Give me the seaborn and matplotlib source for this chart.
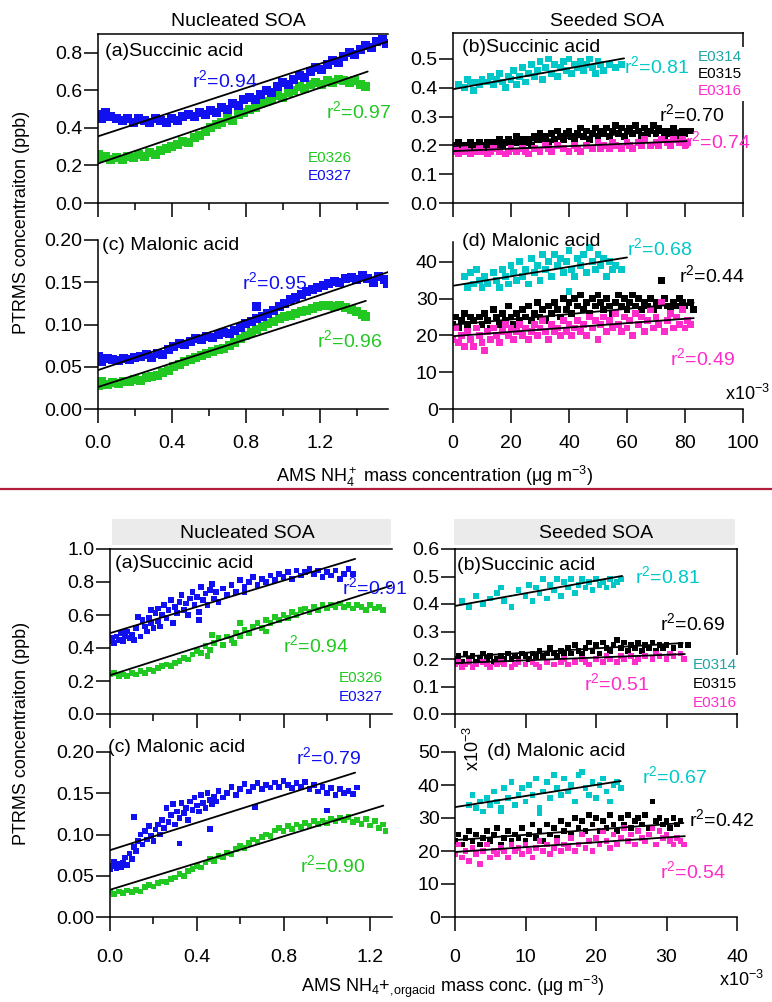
import matplotlib
matplotlib.use("Agg")
import matplotlib.pyplot as plt
import numpy as np
import pandas as pd
import seaborn as sns
from matplotlib.ticker import MultipleLocator, FormatStrFormatter
from matplotlib.patches import Rectangle
from matplotlib.lines import Line2D

sns.set_theme(style="white")
plt.rcParams["font.family"] = ["Liberation Sans", "DejaVu Sans"]
plt.rcParams["mathtext.fontset"] = "custom"
plt.rcParams["mathtext.rm"] = "Liberation Sans"
plt.rcParams["mathtext.default"] = "regular"

# ---------------- colours ----------------
GREEN = "#22C822"
BLUE = "#1010F0"
CYAN = "#00C8C8"
TEAL = "#1FA5A5"
MAGENTA = "#FF2BCB"
BLACK = "#000000"

# ================= TOP BLOCK (AMS NH4+) =================
# (a) Succinic acid, nucleated  (x: ug m-3, y: ppb)
top_a_E0327 = [(0.00,0.47),(0.02,0.45),(0.04,0.48),(0.07,0.46),(0.10,0.45),(0.13,0.44),(0.16,0.45),(0.19,0.43),
               (0.22,0.45),(0.25,0.44),(0.28,0.43),(0.31,0.45),(0.34,0.44),(0.37,0.43),(0.40,0.45),(0.43,0.44),
               (0.46,0.46),(0.49,0.47),(0.52,0.46),(0.55,0.48),(0.58,0.47),(0.61,0.49),(0.64,0.48),(0.67,0.51),
               (0.70,0.50),(0.73,0.53),(0.76,0.52),(0.79,0.55),(0.82,0.56),(0.85,0.55),(0.88,0.58),(0.91,0.60),
               (0.94,0.59),(0.97,0.62),(1.00,0.64),(1.03,0.63),(1.06,0.66),(1.09,0.68),(1.12,0.67),(1.15,0.70),
               (1.18,0.72),(1.21,0.71),(1.24,0.74),(1.27,0.76),(1.30,0.75),(1.33,0.78),(1.36,0.80),(1.39,0.79),
               (1.42,0.82),(1.45,0.84),(1.48,0.83),(1.51,0.86),(1.54,0.87),(1.56,0.85)]
top_a_E0326 = [(0.00,0.26),(0.02,0.24),(0.04,0.25),(0.07,0.23),(0.10,0.24),(0.13,0.23),(0.16,0.25),(0.19,0.24),
               (0.22,0.26),(0.25,0.25),(0.28,0.27),(0.31,0.26),(0.34,0.28),(0.37,0.29),(0.40,0.30),(0.43,0.31),
               (0.46,0.33),(0.49,0.32),(0.52,0.35),(0.55,0.36),(0.58,0.38),(0.61,0.40),(0.64,0.42),(0.67,0.43),
               (0.70,0.45),(0.73,0.44),(0.76,0.47),(0.79,0.48),(0.82,0.50),(0.85,0.51),(0.88,0.53),(0.91,0.54),
               (0.94,0.55),(0.97,0.57),(1.00,0.56),(1.03,0.59),(1.06,0.60),(1.09,0.62),(1.12,0.61),(1.15,0.63),
               (1.18,0.64),(1.21,0.63),(1.24,0.65),(1.27,0.64),(1.30,0.66),(1.33,0.65),(1.36,0.64),(1.39,0.65),
               (1.42,0.63),(1.45,0.62)]
top_a_fits = [(1.57, 0.355, 0.86), (1.46, 0.21, 0.70)]          # (x end, y at 0, y at end)
top_a_r2 = ["0.94", "0.97"]

# (b) Succinic acid, seeded (x: 1e-3 ug m-3, y: ppb)
top_b_E0314 = [(2,0.41),(4,0.40),(5,0.43),(6,0.42),(7,0.39),(8,0.42),(9,0.41),(10,0.43),(12,0.42),(13,0.44),
               (14,0.41),(15,0.43),(16,0.45),(17,0.42),(18,0.40),(19,0.44),(20,0.43),(21,0.46),(22,0.41),(23,0.44),
               (24,0.47),(25,0.42),(26,0.45),(27,0.48),(28,0.44),(29,0.46),(30,0.49),(31,0.43),(32,0.47),(33,0.50),
               (34,0.45),(35,0.48),(36,0.44),(37,0.47),(38,0.49),(39,0.46),(40,0.50),(41,0.45),(42,0.48),(43,0.47),
               (44,0.49),(45,0.46),(46,0.48),(47,0.50),(48,0.47),(49,0.45),(50,0.49),(51,0.48),(52,0.46),(54,0.48),
               (56,0.47),(58,0.48)]
top_b_E0315 = [(0,0.20),(1,0.19),(2,0.21),(3,0.20),(4,0.19),(5,0.20),(6,0.21),(7,0.19),(8,0.20),(9,0.21),(10,0.20),
               (11,0.19),(12,0.21),(13,0.20),(14,0.21),(15,0.20),(16,0.22),(17,0.20),(18,0.21),(19,0.22),(20,0.20),
               (21,0.21),(22,0.23),(23,0.21),(24,0.22),(25,0.21),(26,0.22),(27,0.20),(28,0.23),(29,0.22),(30,0.24),
               (31,0.22),(32,0.23),(33,0.21),(34,0.24),(35,0.22),(36,0.25),(37,0.23),(38,0.22),(39,0.24),(40,0.25),
               (41,0.23),(42,0.22),(43,0.24),(44,0.26),(45,0.23),(46,0.25),(47,0.22),(48,0.24),(49,0.26),(50,0.23),
               (51,0.25),(52,0.24),(53,0.26),(54,0.23),(55,0.25),(56,0.27),(57,0.24),(58,0.26),(59,0.23),(60,0.25),
               (61,0.26),(62,0.24),(63,0.27),(64,0.25),(65,0.23),(66,0.26),(67,0.24),(68,0.25),(69,0.27),(70,0.24),
               (71,0.26),(72,0.25),(73,0.23),(74,0.25),(75,0.24),(76,0.26),(77,0.24),(78,0.23),(79,0.25),(80,0.24),
               (81,0.25),(82,0.25)]
top_b_E0316 = [(0,0.18),(1,0.19),(2,0.17),(3,0.18),(4,0.19),(5,0.18),(6,0.17),(8,0.18),(9,0.19),(10,0.18),(12,0.17),
               (13,0.18),(14,0.19),(16,0.18),(18,0.17),(19,0.18),(20,0.19),(22,0.18),(24,0.19),(25,0.18),(26,0.17),
               (28,0.19),(30,0.18),(32,0.20),(33,0.19),(34,0.18),(36,0.20),(38,0.19),(40,0.18),(42,0.20),(43,0.19),
               (44,0.18),(46,0.20),(48,0.19),(50,0.21),(51,0.19),(52,0.20),(54,0.19),(55,0.21),(56,0.20),(58,0.19),
               (60,0.21),(61,0.20),(62,0.19),(64,0.21),(65,0.20),(66,0.22),(68,0.20),(70,0.21),(71,0.20),(72,0.22),
               (74,0.21),(75,0.20),(76,0.22),(78,0.21),(79,0.22),(80,0.20),(81,0.21)]
top_b_fits = [(59, 0.395, 0.502), (81, 0.197, 0.255), (81, 0.180, 0.215)]
top_b_r2 = ["0.81", "0.70", "0.74"]

# (c) Malonic acid, nucleated
top_c_E0327 = [(0.00,0.062),(0.02,0.056),(0.05,0.060),(0.08,0.058),(0.11,0.057),(0.14,0.060),(0.17,0.058),(0.20,0.061),
               (0.23,0.062),(0.26,0.064),(0.29,0.061),(0.32,0.066),(0.35,0.064),(0.38,0.070),(0.41,0.074),(0.44,0.078),
               (0.47,0.076),(0.50,0.080),(0.53,0.083),(0.56,0.082),(0.59,0.086),(0.62,0.085),(0.65,0.088),(0.68,0.090),
               (0.71,0.089),(0.74,0.093),(0.77,0.097),(0.80,0.101),(0.83,0.104),(0.86,0.107),(0.86,0.121),(0.89,0.110),
               (0.92,0.113),(0.95,0.117),(0.98,0.121),(1.01,0.125),(1.04,0.129),(1.07,0.132),(1.10,0.135),(1.13,0.139),
               (1.16,0.141),(1.19,0.144),(1.22,0.146),(1.25,0.148),(1.28,0.151),(1.31,0.150),(1.34,0.154),(1.37,0.156),
               (1.40,0.153),(1.43,0.158),(1.46,0.155),(1.49,0.150),(1.52,0.157),(1.55,0.153),(1.57,0.148)]
top_c_E0326 = [(0.00,0.028),(0.02,0.032),(0.05,0.029),(0.08,0.031),(0.11,0.030),(0.14,0.033),(0.17,0.032),(0.20,0.035),
               (0.23,0.034),(0.26,0.037),(0.29,0.039),(0.32,0.040),(0.35,0.043),(0.38,0.045),(0.41,0.050),(0.44,0.053),
               (0.47,0.056),(0.50,0.058),(0.53,0.061),(0.56,0.063),(0.59,0.066),(0.62,0.068),(0.65,0.070),(0.68,0.072),
               (0.71,0.075),(0.74,0.079),(0.77,0.083),(0.80,0.087),(0.83,0.091),(0.86,0.094),(0.89,0.098),(0.92,0.101),
               (0.95,0.104),(0.98,0.107),(1.01,0.109),(1.04,0.111),(1.07,0.113),(1.10,0.115),(1.13,0.117),(1.16,0.119),
               (1.19,0.121),(1.22,0.122),(1.25,0.123),(1.28,0.121),(1.31,0.122),(1.34,0.120),(1.37,0.118),(1.40,0.115),
               (1.43,0.112),(1.45,0.109)]
top_c_fits = [(1.57, 0.046, 0.162), (1.45, 0.026, 0.128)]
top_c_r2 = ["0.95", "0.96"]

# (d) Malonic acid, seeded (x: 1e-3 ug m-3, y: 1e-3 ppb)
top_d_E0314 = [(4,36),(5,33),(6,37),(7,34),(8,38),(9,35),(10,33),(11,36),(12,34),(14,37),(15,35),(16,33),(17,38),
               (18,36),(19,34),(20,39),(21,37),(22,35),(23,40),(24,36),(25,38),(26,34),(27,41),(28,37),(29,39),(30,35),
               (31,42),(32,38),(33,40),(34,36),(35,42),(36,39),(37,41),(38,37),(39,40),(40,43),(40,32),(41,38),(42,36),
               (43,41),(44,39),(45,42),(46,37),(47,44),(48,40),(49,38),(50,42),(51,39),(52,41),(53,36),(54,40),(55,38),
               (56,39),(58,38)]
top_d_E0315 = [(0,23),(1,25),(2,22),(3,24),(4,26),(5,23),(6,25),(7,24),(8,22),(9,25),(10,23),(11,26),(12,24),(13,22),
               (14,27),(15,25),(16,23),(17,26),(18,24),(19,28),(20,25),(21,23),(22,26),(23,24),(24,27),(25,25),(26,28),
               (27,24),(28,26),(29,29),(30,25),(31,27),(32,24),(33,28),(34,26),(35,29),(36,27),(37,25),(38,30),(39,27),
               (40,29),(41,26),(42,30),(43,28),(44,31),(45,27),(46,29),(47,26),(48,30),(49,28),(50,31),(51,29),(52,27),
               (53,30),(54,28),(55,26),(56,29),(57,31),(58,28),(59,30),(60,27),(61,29),(62,31),(63,28),(64,30),(65,27),
               (66,29),(67,28),(68,30),(69,27),(70,29),(71,28),(72,35),(73,30),(74,28),(75,27),(76,29),(77,28),(78,30),
               (79,29),(80,28),(82,29),(83,27)]
top_d_E0316 = [(0,19),(1,22),(2,18),(3,20),(4,17),(5,21),(6,19),(7,17),(8,22),(9,20),(10,18),(11,16),(12,21),(13,19),
               (14,22),(15,20),(16,18),(17,21),(18,23),(19,20),(20,22),(21,19),(22,21),(23,23),(24,20),(25,22),(26,19),
               (27,21),(28,23),(29,20),(30,22),(31,24),(32,21),(33,19),(34,23),(35,21),(36,22),(37,20),(38,24),(39,21),
               (40,23),(41,20),(42,22),(43,24),(44,21),(45,23),(46,20),(47,25),(48,22),(49,24),(50,19),(51,23),(52,25),
               (53,21),(54,24),(55,22),(56,26),(57,23),(58,21),(59,25),(60,22),(61,24),(62,20),(63,26),(64,23),(65,25),
               (66,21),(67,24),(68,27),(69,22),(70,25),(71,23),(72,29),(73,21),(74,24),(75,26),(76,22),(77,25),(78,23),
               (79,27),(80,22),(81,24),(82,23)]
top_d_fits = [(60, 33.5, 41.2), (83, 22.9, 28.9), (83, 19.8, 24.7)]
top_d_r2 = ["0.68", "0.44", "0.49"]

# ================= BOTTOM BLOCK (AMS NH4+,orgacid) =================
bot_a_E0327 = [(0.00,0.44),(0.01,0.46),(0.02,0.43),(0.03,0.47),(0.04,0.45),(0.05,0.49),(0.06,0.44),(0.07,0.47),
               (0.08,0.50),(0.09,0.46),(0.10,0.48),(0.11,0.45),(0.12,0.52),(0.13,0.59),(0.14,0.47),(0.15,0.57),
               (0.16,0.53),(0.17,0.50),(0.18,0.58),(0.19,0.55),(0.19,0.63),(0.20,0.52),(0.21,0.61),(0.22,0.56),
               (0.22,0.64),(0.23,0.53),(0.24,0.60),(0.25,0.66),(0.26,0.58),(0.27,0.63),(0.28,0.69),(0.29,0.55),
               (0.30,0.65),(0.31,0.61),(0.32,0.68),(0.33,0.72),(0.34,0.63),(0.35,0.67),(0.36,0.60),(0.37,0.70),
               (0.38,0.74),(0.39,0.66),(0.40,0.71),(0.41,0.62),(0.41,0.57),(0.42,0.77),(0.43,0.69),(0.44,0.73),
               (0.45,0.66),(0.46,0.75),(0.47,0.79),(0.48,0.70),(0.49,0.74),(0.50,0.68),(0.52,0.76),(0.54,0.72),
               (0.56,0.78),(0.58,0.74),(0.60,0.81),(0.62,0.77),(0.62,0.74),(0.64,0.80),(0.66,0.83),(0.68,0.78),
               (0.70,0.82),(0.72,0.80),(0.74,0.84),(0.76,0.81),(0.78,0.85),(0.80,0.83),(0.82,0.86),(0.84,0.82),
               (0.86,0.87),(0.88,0.84),(0.90,0.86),(0.92,0.88),(0.94,0.85),(0.96,0.87),(0.98,0.83),(1.00,0.86),
               (1.02,0.84),(1.04,0.87),(1.06,0.82),(1.08,0.85),(1.10,0.88),(1.12,0.85)]
bot_a_E0326 = [(0.00,0.24),(0.02,0.25),(0.04,0.23),(0.06,0.24),(0.08,0.23),(0.10,0.25),(0.12,0.24),(0.14,0.26),
               (0.16,0.25),(0.18,0.27),(0.20,0.26),(0.22,0.28),(0.24,0.29),(0.26,0.30),(0.28,0.29),(0.30,0.31),
               (0.32,0.32),(0.34,0.34),(0.36,0.33),(0.38,0.36),(0.40,0.38),(0.42,0.37),(0.44,0.41),(0.45,0.35),
               (0.46,0.39),(0.47,0.48),(0.48,0.43),(0.50,0.46),(0.52,0.42),(0.54,0.47),(0.56,0.45),(0.57,0.43),
               (0.58,0.49),(0.60,0.47),(0.60,0.55),(0.62,0.51),(0.64,0.49),(0.66,0.53),(0.68,0.55),(0.70,0.52),
               (0.72,0.57),(0.72,0.50),(0.74,0.55),(0.76,0.59),(0.78,0.57),(0.80,0.60),(0.82,0.58),(0.84,0.62),
               (0.86,0.60),(0.88,0.63),(0.90,0.64),(0.92,0.62),(0.94,0.65),(0.96,0.63),(0.98,0.66),(1.00,0.64),
               (1.02,0.66),(1.04,0.65),(1.06,0.67),(1.08,0.65),(1.10,0.66),(1.12,0.64),(1.14,0.66),(1.16,0.65),
               (1.18,0.63),(1.20,0.66),(1.22,0.64),(1.24,0.65),(1.26,0.63)]
bot_a_fits = [(1.13, 0.49, 0.94), (1.30, 0.235, 0.78)]
bot_a_r2 = ["0.91", "0.94"]

bot_b_E0314 = [(1,0.41),(2,0.39),(3,0.43),(4,0.40),(5,0.42),(6,0.44),(6.5,0.46),(7,0.41),(8,0.39),(9,0.45),(10,0.43),
               (10.5,0.47),(11,0.41),(11.5,0.46),(12,0.44),(12.5,0.49),(13,0.42),(13.5,0.47),(14,0.45),(14.5,0.49),
               (15,0.43),(15.5,0.48),(16,0.46),(16.5,0.49),(17,0.44),(17.5,0.47),(18,0.49),(18.5,0.46),(19,0.48),
               (19.5,0.45),(20,0.49),(20.5,0.47),(21,0.48),(21.5,0.46),(22,0.49),(22.5,0.47),(23,0.48),(23.5,0.49)]
bot_b_E0315 = [(0,0.20),(0.5,0.21),(1,0.19),(1.5,0.22),(2,0.20),(2.5,0.21),(3,0.19),(3.5,0.20),(4,0.22),(4.5,0.20),
               (5,0.21),(5.5,0.19),(6,0.20),(6.5,0.21),(7,0.20),(7.5,0.22),(8,0.20),(8.5,0.21),(9,0.20),(9.5,0.22),
               (10,0.21),(10.5,0.20),(11,0.22),(11.5,0.21),(12,0.23),(12.5,0.21),(13,0.22),(13.5,0.24),(14,0.22),
               (14.5,0.21),(15,0.23),(15.5,0.22),(16,0.24),(16.5,0.22),(17,0.25),(17.5,0.23),(18,0.22),(18.5,0.24),
               (19,0.26),(19.5,0.23),(20,0.25),(20.5,0.22),(21,0.26),(21.5,0.24),(22,0.23),(22.5,0.25),(23,0.27),
               (23.5,0.24),(24,0.26),(24.5,0.23),(25,0.25),(25.5,0.24),(26,0.26),(26.5,0.23),(27,0.25),(27.5,0.24),
               (28,0.26),(28.5,0.23),(29,0.25),(29.5,0.24),(30,0.25),(31,0.24),(32,0.25),(33,0.25)]
bot_b_E0316 = [(0,0.18),(0.5,0.19),(1,0.17),(1.5,0.18),(2,0.19),(2.5,0.17),(3,0.18),(4,0.19),(4.5,0.18),(5,0.17),
               (6,0.18),(6.5,0.19),(7,0.18),(8,0.17),(8.5,0.18),(9,0.19),(10,0.18),(11,0.19),(11.5,0.18),(12,0.17),
               (13,0.19),(14,0.18),(15,0.19),(15.5,0.20),(16,0.18),(17,0.19),(18,0.20),(18.5,0.19),(19,0.18),
               (20,0.20),(21,0.19),(21.5,0.21),(22,0.20),(23,0.19),(23.5,0.21),(24,0.20),(25,0.21),(25.5,0.19),
               (26,0.20),(27,0.21),(28,0.20),(28.5,0.22),(29,0.21),(30,0.20),(30.5,0.22),(31,0.21),(32,0.22),(32.5,0.20)]
bot_b_fits = [(23.7, 0.393, 0.502), (32.3, 0.207, 0.258), (32.6, 0.185, 0.218)]
bot_b_r2 = ["0.81", "0.69", "0.51"]

bot_c_E0327 = [(0.00,0.058),(0.01,0.062),(0.02,0.067),(0.03,0.059),(0.04,0.064),(0.05,0.060),(0.06,0.066),(0.07,0.072),
               (0.08,0.063),(0.09,0.077),(0.10,0.070),(0.11,0.085),(0.11,0.121),(0.12,0.080),(0.13,0.092),(0.14,0.100),
               (0.15,0.088),(0.16,0.104),(0.17,0.094),(0.18,0.110),(0.19,0.098),(0.20,0.092),(0.21,0.106),(0.22,0.112),
               (0.23,0.100),(0.24,0.118),(0.25,0.108),(0.26,0.132),(0.27,0.115),(0.28,0.124),(0.29,0.137),(0.30,0.112),
               (0.31,0.128),(0.32,0.120),(0.32,0.089),(0.33,0.138),(0.34,0.126),(0.35,0.132),(0.36,0.118),(0.37,0.140),
               (0.38,0.130),(0.39,0.145),(0.40,0.135),(0.41,0.128),(0.42,0.148),(0.43,0.138),(0.44,0.132),(0.45,0.150),
               (0.46,0.142),(0.46,0.107),(0.47,0.137),(0.48,0.146),(0.49,0.140),(0.50,0.153),(0.52,0.145),(0.54,0.150),
               (0.56,0.158),(0.58,0.148),(0.60,0.155),(0.62,0.161),(0.64,0.152),(0.66,0.158),(0.67,0.133),(0.68,0.162),
               (0.70,0.155),(0.72,0.160),(0.74,0.157),(0.76,0.163),(0.78,0.158),(0.80,0.165),(0.82,0.160),(0.84,0.156),
               (0.86,0.162),(0.88,0.158),(0.90,0.164),(0.92,0.155),(0.94,0.160),(0.96,0.152),(0.98,0.158),(1.00,0.150),
               (1.00,0.129),(1.02,0.156),(1.04,0.148),(1.06,0.155),(1.08,0.150),(1.10,0.153),(1.12,0.149),(1.14,0.157)]
bot_c_E0326 = [(0.00,0.030),(0.02,0.028),(0.04,0.031),(0.06,0.029),(0.08,0.032),(0.10,0.030),(0.12,0.033),(0.14,0.031),
               (0.16,0.036),(0.18,0.039),(0.20,0.037),(0.22,0.041),(0.24,0.043),(0.26,0.042),(0.28,0.046),(0.30,0.048),
               (0.32,0.052),(0.34,0.050),(0.36,0.056),(0.38,0.058),(0.40,0.062),(0.42,0.060),(0.44,0.066),(0.46,0.070),
               (0.48,0.068),(0.50,0.074),(0.52,0.072),(0.54,0.078),(0.56,0.076),(0.58,0.082),(0.60,0.086),(0.62,0.084),
               (0.64,0.090),(0.66,0.094),(0.68,0.091),(0.70,0.097),(0.72,0.100),(0.74,0.098),(0.76,0.105),(0.78,0.108),
               (0.80,0.104),(0.82,0.110),(0.84,0.107),(0.86,0.112),(0.88,0.109),(0.90,0.114),(0.92,0.111),(0.94,0.116),
               (0.96,0.113),(0.98,0.117),(1.00,0.114),(1.02,0.119),(1.04,0.116),(1.06,0.120),(1.08,0.117),(1.10,0.121),
               (1.12,0.115),(1.14,0.118),(1.16,0.113),(1.18,0.119),(1.20,0.111),(1.22,0.116),(1.24,0.108),(1.26,0.112),
               (1.27,0.104)]
bot_c_fits = [(1.13, 0.081, 0.175), (1.26, 0.033, 0.135)]
bot_c_r2 = ["0.79", "0.90"]

bot_d_E0314 = [(2,34),(2.5,37),(3,33),(3.5,35),(4,32),(4.5,36),(5,34),(5.5,38),(6,35),(6.5,33),(6.5,32),(7,39),(7.5,36),
               (8,41),(8.5,34),(9,37),(9.5,39),(10,35),(10.5,40),(11,37),(11.5,42),(12,33),(12,31.5),(12.5,38),(13,41),
               (13.5,36),(14,43),(14.5,39),(15,37),(15.5,42),(16,38),(16.5,40),(17,35),(17.5,43),(18,44),(18.5,39),
               (19,37),(19.5,41),(20,36),(20.5,40),(21,42),(21.5,38),(22,35),(22.5,40),(23,41),(23.5,39)]
bot_d_E0315 = [(0,23),(0.5,25),(1,22),(1.5,24),(2,26),(2.5,23),(3,25),(3.5,22),(4,24),(4.5,26),(5,23),(5.5,25),(6,27),
               (6.5,22),(7,24),(7.5,26),(8,23),(8.5,25),(9,24),(9.5,27),(10,23),(10.5,25),(11,28),(11.5,24),(12,26),
               (12.5,23),(13,28),(13.5,25),(14,27),(14.5,24),(15,29),(15.5,26),(16,28),(16.5,25),(17,30),(17.5,27),
               (18,29),(18.5,26),(19,31),(19.5,28),(20,30),(20.5,26),(21,29),(21.5,27),(22,31),(22.5,28),(23,26),
               (23.5,30),(24,28),(24.5,31),(25,27),(25.5,29),(26,30),(26.5,28),(27,31),(27.5,27),(28,35),(28.5,29),
               (29,30),(29.5,28),(30,29),(30.5,27),(31,30),(31.5,28),(32,29)]
bot_d_E0316 = [(0,19),(0.5,22),(1,18),(1.5,20),(2,17),(2.5,21),(3,19),(3.5,16),(4,20),(4.5,22),(5,18),(5.5,20),(6,19),
               (6.5,21),(7,20),(7.5,18),(8,22),(8.5,20),(9,21),(9.5,19),(10,22),(10.5,20),(11,18),(11.5,21),(12,23),
               (12.5,20),(13,22),(13.5,19),(14,21),(14.5,23),(15,20),(15.5,22),(16,21),(16.5,24),(17,20),(17.5,22),
               (18,25),(18.5,21),(19,23),(19.5,20),(20,24),(20.5,22),(21,26),(21.5,23),(22,21),(22.5,25),(23,22),
               (23.5,24),(24,27),(24.5,23),(25,25),(25.5,22),(26,26),(26.5,24),(27,23),(27.5,25),(28,27),(28.5,22),
               (29,26),(29.5,24),(30,25),(30.5,23),(31,22),(31.5,24),(32,23),(32.5,22)]
bot_d_fits = [(23.5, 33.3, 41.2), (32.4, 23.3, 28.5), (32.6, 19.7, 24.5)]
bot_d_r2 = ["0.67", "0.42", "0.54"]

panel_titles = ["Nucleated SOA", "Seeded SOA"]
panel_labels = ["(a)Succinic acid", "(b)Succinic acid", "(c) Malonic acid", "(d) Malonic acid"]
nucl_exps = ["E0326", "E0327"]
seed_exps = ["E0314", "E0315", "E0316"]
ylabel = "PTRMS concentraiton (ppb)"
xlabel_top = r"AMS NH$_4^+$ mass concentration (μg m$^{-3}$)"
xlabel_bot = r"AMS NH$_4$+$_{,\!orgacid}$ mass conc. (μg m$^{-3}$)"

# ---------------- figure ----------------
W, H = 772, 1002
fig = plt.figure(figsize=(W / 100, H / 100), dpi=100)
fig.patch.set_facecolor("white")

TICK_FS = 14
LAB_FS = 14


def fx(px):
    return px / W


def fy(py):
    return 1 - py / H


def add_ax(l, t, r, b):
    return fig.add_axes([l / W, 1 - b / H, (r - l) / W, (b - t) / H])


def style(ax, xlim, ylim, xmaj, xmin, ymaj, yfmt, xfmt, top=False, right=False, xlabels=True, xpad=9):
    ax.set_xlim(*xlim)
    ax.set_ylim(*ylim)
    ax.set_facecolor("none")
    for s in ["left", "bottom"]:
        ax.spines[s].set_visible(True)
        ax.spines[s].set_color("black")
        ax.spines[s].set_linewidth(1.1)
    ax.spines["top"].set_visible(top)
    ax.spines["right"].set_visible(right)
    for s in ["top", "right"]:
        ax.spines[s].set_color("black")
        ax.spines[s].set_linewidth(1.1)
    ax.xaxis.set_major_locator(MultipleLocator(xmaj))
    if xmin:
        ax.xaxis.set_minor_locator(MultipleLocator(xmin))
    ax.yaxis.set_major_locator(MultipleLocator(ymaj))
    ax.yaxis.set_major_formatter(FormatStrFormatter(yfmt))
    ax.xaxis.set_major_formatter(FormatStrFormatter(xfmt))
    ax.tick_params(axis="both", which="major", direction="out", length=10, width=1.1, color="black",
                   labelsize=TICK_FS, labelcolor="black", bottom=True, left=True, top=False, right=False)
    ax.tick_params(axis="x", which="major", pad=xpad)
    ax.tick_params(axis="y", which="major", pad=1)
    ax.tick_params(axis="x", which="minor", direction="out", length=5, width=1.1, color="black", bottom=True)
    if not xlabels:
        ax.tick_params(axis="x", labelbottom=False)
    ax.set_xlabel("")
    ax.set_ylabel("")
    ax.grid(False)


def scatter(ax, pairs, color, s):
    df = pd.DataFrame(pairs, columns=["x", "y"])
    sns.scatterplot(data=df, x="x", y="y", ax=ax, color=color, marker="s", s=s,
                    linewidth=0, edgecolor="none", zorder=2, legend=False)


def fit(ax, f):
    xe, y0, y1 = f
    df = pd.DataFrame({"x": [0.0, xe], "y": [y0, y1]})
    sns.lineplot(data=df, x="x", y="y", ax=ax, color="black", lw=1.3, zorder=3, legend=False)


def ftext(x, y, s, color="black", size=LAB_FS, ha="center", va="center", **kw):
    fig.text(fx(x), fy(y), s, color=color, fontsize=size, ha=ha, va=va, **kw)


def r2(x, y, val, color):
    ftext(x, y, r"r$^{2}$=" + val, color=color, size=14)


def legend_txt(x, y, s, color):
    ftext(x, y, s, color=color, size=11, ha="right",
          bbox=dict(facecolor="white", edgecolor="none", pad=2.0))


S_NUC_TOP = 42
S_SEED_TOP = 24
S_BOT = 17

# ================= TOP BLOCK =================
ax = add_ax(98, 34, 388, 203)
scatter(ax, top_a_E0326, GREEN, S_NUC_TOP)
scatter(ax, top_a_E0327, BLUE, S_NUC_TOP)
for f in top_a_fits:
    fit(ax, f)
style(ax, (0, 1.57), (0, 0.9), 0.4, 0.2, 0.2, "%.1f", "%.1f", top=True, xlabels=False)
ftext(105, 51, panel_labels[0], ha="left")
r2(225, 80, top_a_r2[0], BLUE)
r2(359, 111, top_a_r2[1], GREEN)
legend_txt(352, 158, nucl_exps[0], GREEN)
legend_txt(352, 176, nucl_exps[1], BLUE)
ftext(238, 22, panel_titles[0])

ax = add_ax(453, 33, 743, 203)
scatter(ax, top_b_E0314, CYAN, S_SEED_TOP)
scatter(ax, top_b_E0315, BLACK, S_SEED_TOP)
scatter(ax, top_b_E0316, MAGENTA, S_SEED_TOP)
for f in top_b_fits:
    fit(ax, f)
style(ax, (0, 100), (0, 0.59), 20, None, 0.1, "%.1f", "%d", top=True, right=True, xlabels=False)
ftext(462, 48, panel_labels[1], ha="left")
r2(657, 66, top_b_r2[0], CYAN)
r2(692, 114, top_b_r2[1], BLACK)
r2(718, 141, top_b_r2[2], MAGENTA)
legend_txt(742, 57, seed_exps[0], TEAL)
legend_txt(742, 74, seed_exps[1], BLACK)
legend_txt(742, 91, seed_exps[2], MAGENTA)
ftext(607, 22, panel_titles[1])

ax = add_ax(98, 240, 388, 409)
scatter(ax, top_c_E0326, GREEN, S_NUC_TOP)
scatter(ax, top_c_E0327, BLUE, S_NUC_TOP)
for f in top_c_fits:
    fit(ax, f)
style(ax, (0, 1.57), (0, 0.2), 0.4, 0.2, 0.05, "%.2f", "%.1f", xpad=9)
ftext(102, 246, panel_labels[2], ha="left")
r2(275, 282, top_c_r2[0], BLUE)
r2(350, 340, top_c_r2[1], GREEN)

ax = add_ax(453, 242, 743, 409)
scatter(ax, top_d_E0314, CYAN, S_SEED_TOP)
scatter(ax, top_d_E0315, BLACK, S_SEED_TOP)
scatter(ax, top_d_E0316, MAGENTA, S_SEED_TOP)
for f in top_d_fits:
    fit(ax, f)
style(ax, (0, 100), (0, 45.4), 20, None, 10, "%d", "%d", xpad=9)
ftext(462, 241, panel_labels[3], ha="left")
r2(660, 248, top_d_r2[0], CYAN)
r2(712, 275, top_d_r2[1], BLACK)
r2(703, 358, top_d_r2[2], MAGENTA)
ftext(748, 394, r"x10$^{-3}$", size=13)

ftext(22, 222, ylabel, size=13, rotation=90)
ftext(435, 476, xlabel_top, size=13)

# separator line
fig.add_artist(Line2D([0, 1], [fy(489), fy(489)], color="#B01E3C", lw=1.6, transform=fig.transFigure))

# ================= BOTTOM BLOCK =================
fig.add_artist(Rectangle((fx(112), fy(545)), fx(391) - fx(112), fy(519) - fy(545),
                         transform=fig.transFigure, facecolor="#EBEBEB", edgecolor="none", zorder=0))
fig.add_artist(Rectangle((fx(454), fy(545)), fx(735) - fx(454), fy(519) - fy(545),
                         transform=fig.transFigure, facecolor="#EBEBEB", edgecolor="none", zorder=0))
ftext(247, 533, panel_titles[0])
ftext(596, 533, panel_titles[1])

ax = add_ax(110, 549, 392, 714)
scatter(ax, bot_a_E0326, GREEN, S_BOT)
scatter(ax, bot_a_E0327, BLUE, S_BOT)
for f in bot_a_fits:
    fit(ax, f)
style(ax, (0, 1.3), (0, 1.0), 0.4, 0.2, 0.2, "%.1f", "%.1f", top=True, xlabels=False)
ftext(115, 563, panel_labels[0], ha="left")
r2(375, 587, bot_a_r2[0], BLUE)
r2(316, 645, bot_a_r2[1], GREEN)
legend_txt(383, 678, nucl_exps[0], GREEN)
legend_txt(383, 697, nucl_exps[1], BLUE)

ax = add_ax(455, 549, 737, 714)
scatter(ax, bot_b_E0314, CYAN, S_BOT)
scatter(ax, bot_b_E0315, BLACK, S_BOT)
scatter(ax, bot_b_E0316, MAGENTA, S_BOT)
for f in bot_b_fits:
    fit(ax, f)
style(ax, (0, 40), (0, 0.6), 10, None, 0.1, "%.1f", "%d", top=True, right=True, xlabels=False)
ftext(457, 565, panel_labels[1], ha="left")
r2(668, 576, bot_b_r2[0], CYAN)
r2(693, 623, bot_b_r2[1], BLACK)
r2(617, 683, bot_b_r2[2], MAGENTA)
legend_txt(737, 665, seed_exps[0], TEAL)
legend_txt(737, 684, seed_exps[1], BLACK)
legend_txt(737, 703, seed_exps[2], MAGENTA)

ax = add_ax(110, 752, 392, 917)
scatter(ax, bot_c_E0326, GREEN, S_BOT)
scatter(ax, bot_c_E0327, BLUE, S_BOT)
for f in bot_c_fits:
    fit(ax, f)
style(ax, (0, 1.3), (0, 0.2), 0.4, 0.2, 0.05, "%.2f", "%.1f", xpad=13)
ftext(108, 747, panel_labels[2], ha="left")
r2(329, 757, bot_c_r2[0], BLUE)
r2(333, 865, bot_c_r2[1], GREEN)

ax = add_ax(455, 752, 737, 917)
scatter(ax, bot_d_E0314, CYAN, S_BOT)
scatter(ax, bot_d_E0315, BLACK, S_BOT)
scatter(ax, bot_d_E0316, MAGENTA, S_BOT)
for f in bot_d_fits:
    fit(ax, f)
style(ax, (0, 40), (0, 50), 10, None, 10, "%d", "%d", xpad=13)
ftext(487, 752, panel_labels[3], ha="left")
r2(675, 776, bot_d_r2[0], CYAN)
r2(722, 819, bot_d_r2[1], BLACK)
r2(693, 871, bot_d_r2[2], MAGENTA)
ftext(473, 748, r"x10$^{-3}$", size=13, rotation=90)
ftext(742, 980, r"x10$^{-3}$", size=13)

ftext(22, 733, ylabel, size=13, rotation=90)
ftext(453, 987, xlabel_bot, size=13)

fig.savefig("out.png", dpi=100, facecolor="white")
